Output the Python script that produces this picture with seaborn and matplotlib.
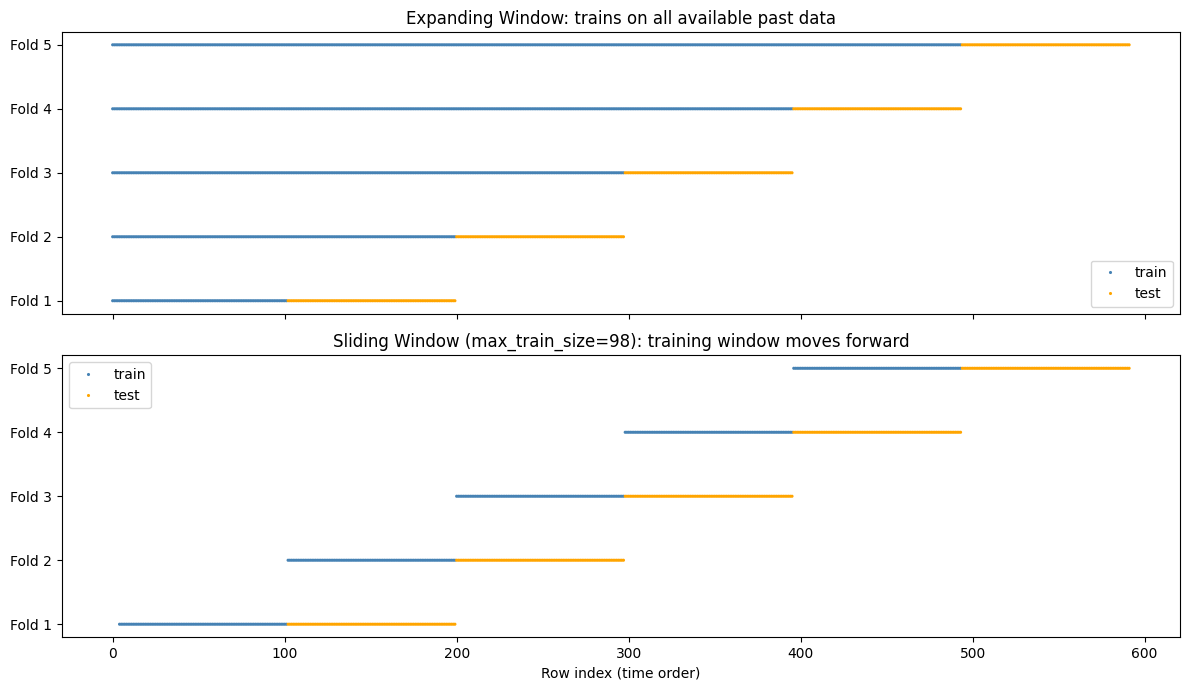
import numpy as np
import pandas as pd
import matplotlib
matplotlib.use("Agg")
import matplotlib.pyplot as plt
import seaborn as sns

# fold boundaries (row indices, inclusive start / exclusive end)
fold_labels = ["Fold 1", "Fold 2", "Fold 3", "Fold 4", "Fold 5"]
test_start = [102, 200, 298, 396, 494]
test_end = [200, 298, 396, 494, 592]
expanding_train_start = [0, 0, 0, 0, 0]
sliding_train_start = [4, 102, 200, 298, 396]


def build_rows(train_start):
    rows = []
    for i, lab in enumerate(fold_labels):
        for r in range(train_start[i], test_start[i]):
            rows.append((r, i, "train"))
        for r in range(test_start[i], test_end[i]):
            rows.append((r, i, "test"))
    return pd.DataFrame(rows, columns=["row", "fold", "split"])


df_exp = build_rows(expanding_train_start)
df_sld = build_rows(sliding_train_start)

palette = {"train": "steelblue", "test": "orange"}

fig, axes = plt.subplots(2, 1, figsize=(11.89, 6.9), dpi=100, sharex=True)

panels = [
    (axes[0], df_exp, "Expanding Window: trains on all available past data", "lower right"),
    (axes[1], df_sld, "Sliding Window (max_train_size=98): training window moves forward", "upper left"),
]

for ax, d, title, loc in panels:
    sns.scatterplot(data=d, x="row", y="fold", hue="split", palette=palette,
                    s=5, marker="o", linewidth=0, ax=ax)
    ax.set_yticks(range(len(fold_labels)))
    ax.set_yticklabels(fold_labels)
    ax.set_title(title)
    ax.set_ylabel("")
    ax.set_xlabel("")
    ax.legend(loc=loc)

axes[1].set_xlabel("Row index (time order)")

fig.subplots_adjust(left=0.052, right=0.9924, top=0.9536, bottom=0.0768, hspace=0.149)
plt.savefig("out.png", dpi=100)
